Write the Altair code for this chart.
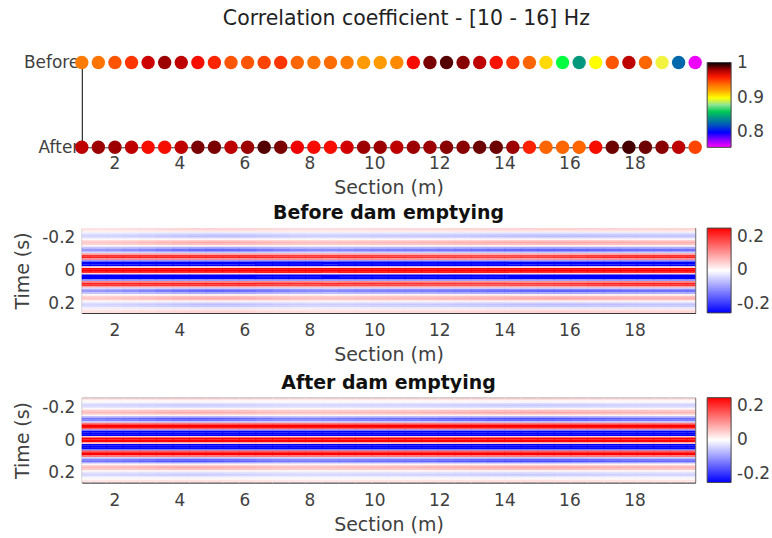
import altair as alt
import pandas as pd

# ---------------- data ----------------
sections = [1.00, 1.51, 2.02, 2.53, 3.04, 3.55, 4.06, 4.57, 5.08, 5.59,
            6.10, 6.61, 7.12, 7.63, 8.14, 8.65, 9.16, 9.67, 10.18, 10.69,
            11.20, 11.71, 12.22, 12.73, 13.24, 13.75, 14.26, 14.77, 15.28, 15.79,
            16.30, 16.81, 17.32, 17.83, 18.34, 18.85, 19.36, 19.87]

corr_before = [0.935, 0.937, 0.945, 0.953, 0.975, 0.982, 0.977, 0.965, 0.957, 0.945,
               0.945, 0.949, 0.953, 0.941, 0.937, 0.939, 0.935, 0.925, 0.925, 0.931,
               0.965, 0.987, 0.992, 0.985, 0.977, 0.964, 0.953, 0.941, 0.908, 0.870,
               0.845, 0.900, 0.945, 0.977, 0.941, 0.895, 0.828, 0.760]

corr_after = [0.977, 0.982, 0.982, 0.977, 0.965, 0.965, 0.977, 0.987, 0.987, 0.977,
              0.982, 0.992, 0.987, 0.970, 0.965, 0.965, 0.974, 0.982, 0.982, 0.977,
              0.982, 0.982, 0.985, 0.985, 0.989, 0.989, 0.982, 0.958, 0.941, 0.941,
              0.941, 0.965, 0.989, 0.994, 0.989, 0.985, 0.977, 0.949]

time_s = [-0.26, -0.25, -0.24, -0.23, -0.22, -0.21, -0.20, -0.19, -0.18, -0.17,
          -0.16, -0.15, -0.14, -0.13, -0.12, -0.11, -0.10, -0.09, -0.08, -0.07,
          -0.06, -0.05, -0.04, -0.03, -0.02, -0.01, 0.00, 0.01, 0.02, 0.03,
          0.04, 0.05, 0.06, 0.07, 0.08, 0.09, 0.10, 0.11, 0.12, 0.13,
          0.14, 0.15, 0.16, 0.17, 0.18, 0.19, 0.20, 0.21, 0.22, 0.23,
          0.24, 0.25, 0.26]

trace_before = [0.04, 0.04, 0.02, -0.02, -0.05, -0.06, -0.04, 0.01, 0.06, 0.08,
                0.06, 0.01, -0.08, -0.14, -0.14, -0.05, 0.09, 0.20, 0.22, 0.12,
                -0.10, -0.36, -0.45, -0.28, 0.04, 0.37, 0.50, 0.37, 0.04, -0.28,
                -0.45, -0.36, -0.10, 0.12, 0.22, 0.20, 0.09, -0.05, -0.14, -0.14,
                -0.08, 0.01, 0.06, 0.08, 0.06, 0.01, -0.04, -0.06, -0.05, -0.02,
                0.02, 0.04, 0.04]

trace_after = [0.03, 0.03, 0.01, -0.01, -0.04, -0.05, -0.03, 0.01, 0.06, 0.08,
               0.06, 0.01, -0.09, -0.16, -0.14, -0.05, 0.13, 0.30, 0.31, 0.16,
               -0.13, -0.42, -0.50, -0.30, 0.05, 0.41, 0.55, 0.41, 0.05, -0.30,
               -0.50, -0.42, -0.13, 0.16, 0.31, 0.30, 0.13, -0.05, -0.14, -0.16,
               -0.09, 0.01, 0.06, 0.08, 0.06, 0.01, -0.03, -0.05, -0.04, -0.01,
               0.01, 0.03, 0.03]

gain_inner_before = [1.00, 1.00, 1.00, 1.00, 1.00, 1.00, 1.00, 1.00, 1.00, 1.00,
                     1.00, 0.98, 0.96, 0.95, 0.95, 0.95, 0.95, 0.95, 0.94, 0.93,
                     0.92, 0.91, 0.90, 0.89, 0.88, 0.88, 0.88, 0.88, 0.89, 0.91,
                     0.93, 0.96, 0.98, 1.00, 1.00, 1.00, 1.00, 1.00]
gain_outer_before = [0.70, 0.72, 0.75, 0.80, 0.86, 0.93, 1.00, 1.05, 1.08, 1.06,
                     1.02, 0.96, 0.90, 0.85, 0.82, 0.82, 0.84, 0.87, 0.90, 0.91,
                     0.92, 0.93, 0.95, 0.98, 1.00, 1.03, 1.06, 1.08, 1.10, 1.10,
                     1.09, 1.07, 1.05, 1.03, 1.01, 1.00, 1.00, 1.00]
gain_inner_after = [1.00, 1.00, 1.00, 1.00, 1.00, 1.00, 1.00, 1.00, 1.00, 1.00,
                    1.00, 1.00, 1.00, 0.99, 0.99, 0.98, 0.98, 0.98, 0.98, 0.98,
                    0.98, 0.98, 0.98, 0.98, 0.98, 0.98, 0.99, 0.99, 1.00, 1.00,
                    1.00, 1.00, 1.00, 1.00, 1.00, 1.00, 1.00, 1.00]
gain_outer_after = [0.85, 0.86, 0.88, 0.92, 0.97, 1.02, 1.05, 1.05, 1.03, 0.99,
                    0.94, 0.88, 0.84, 0.82, 0.82, 0.84, 0.86, 0.88, 0.90, 0.91,
                    0.92, 0.95, 0.98, 1.01, 1.04, 1.07, 1.09, 1.10, 1.10, 1.08,
                    1.05, 1.02, 0.99, 0.96, 0.94, 0.93, 0.92, 0.92]

corr_stops = [0.757, 0.78, 0.80, 0.82, 0.84, 0.855, 0.87, 0.885, 0.90, 0.91,
              0.92, 0.93, 0.94, 0.95, 0.96, 0.97, 0.98, 0.99, 1.002]
corr_colors = ['#ff00ff', '#8000ff', '#0000ff', '#0050c0', '#008c8c', '#00b060',
               '#00ff40', '#d8d8c0', '#ffff00', '#ffd000', '#ffaa00', '#ff8c00',
               '#ff6a00', '#ff4000', '#ff1a00', '#ee0000', '#aa0000', '#660000',
               '#000000']

FONT = 'DejaVu Sans'
LAB = '#404040'
W, H = 615, 85
xticks = [2, 4, 6, 8, 10, 12, 14, 16, 18]
xdom = [1.0, 19.87]
TICK_FS = 17
TITLE_FS = 19


def make_x_axis(label_pad):
    return alt.Axis(values=xticks, title='Section (m)', grid=False, ticks=False,
                    domainColor='#333333', labelFontSize=TICK_FS, titleFontSize=TITLE_FS,
                    labelColor=LAB, titleColor=LAB, titleFontWeight='normal',
                    labelPadding=label_pad, titlePadding=7, labelFont=FONT, titleFont=FONT)


legend_common = dict(title=None, gradientLength=85, gradientThickness=24,
                     gradientStrokeColor='#444444', gradientStrokeWidth=1,
                     labelFontSize=TICK_FS, labelColor=LAB, labelFont=FONT,
                     labelBaseline='middle', offset=12, padding=0, labelOffset=6)

# ---------------- top panel ----------------
corr_df = pd.DataFrame({
    'section': sections + sections,
    'row': [1] * len(sections) + [0] * len(sections),
    'r': corr_before + corr_after,
})

top = alt.Chart(corr_df, view=alt.ViewBackground(stroke='transparent', strokeWidth=0)).mark_circle(
    size=180, opacity=1).encode(
    x=alt.X('section:Q', scale=alt.Scale(domain=xdom, nice=False, zero=False), axis=make_x_axis(8)),
    y=alt.Y('row:Q', scale=alt.Scale(domain=[0, 1], nice=False),
            axis=alt.Axis(values=[0, 1], labelExpr="datum.value == 1 ? 'Before' : 'After'",
                          grid=False, ticks=False, domainColor='#000000', title=None,
                          labelFontSize=TICK_FS, labelColor=LAB, labelFont=FONT, labelPadding=3)),
    color=alt.Color('r:Q',
                    scale=alt.Scale(domain=corr_stops, range=corr_colors, interpolate='rgb', clamp=True),
                    legend=alt.Legend(values=[1.0, 0.9, 0.8], format='.1~f', **legend_common)),
).properties(width=W, height=H)


# ---------------- heatmaps ----------------
def heat_df(trace, g_in, g_out):
    edges = [sections[0] - 0.255]
    for a, b in zip(sections[:-1], sections[1:]):
        edges.append((a + b) / 2)
    edges.append(sections[-1] + 0.255)
    rows = []
    for i, s in enumerate(sections):
        for t, v in zip(time_s, trace):
            g = g_in[i] if abs(t) <= 0.105 else g_out[i]
            rows.append({'x0': edges[i] - 0.015, 'x1': edges[i + 1] + 0.015,
                         'y0': t - 0.0055, 'y1': t + 0.0055, 'v': v * g})
    return pd.DataFrame(rows)


LBL = "datum.value == 0 ? '0' : (datum.value < 0 ? '-' : '') + format(abs(datum.value), '.1f')"


def heat_chart(df, title, toff):
    return alt.Chart(df, view=alt.ViewBackground(stroke='#555555', strokeWidth=1)).mark_rect(clip=True).encode(
        x=alt.X('x0:Q', scale=alt.Scale(domain=xdom, nice=False, zero=False), axis=make_x_axis(10)),
        x2='x1:Q',
        y=alt.Y('y0:Q', scale=alt.Scale(domain=[-0.26, 0.26], nice=False, zero=False, reverse=True),
                axis=alt.Axis(values=[-0.2, 0, 0.2], title='Time (s)', grid=False, ticks=False,
                              domain=False, labelExpr=LBL,
                              labelFontSize=TICK_FS, titleFontSize=TITLE_FS, labelColor=LAB, titleColor=LAB,
                              titleFontWeight='normal', labelFont=FONT, titleFont=FONT,
                              labelPadding=7, titlePadding=9)),
        y2='y1:Q',
        color=alt.Color('v:Q',
                        scale=alt.Scale(domain=[-0.25, 0, 0.25], range=['#0000ff', '#ffffff', '#ff0000'],
                                        interpolate='rgb', clamp=True),
                        legend=alt.Legend(values=[0.2, 0, -0.2], labelExpr=LBL, **legend_common)),
    ).properties(width=W, height=H,
                 title=alt.TitleParams(title, fontSize=19, fontWeight='bold', font=FONT,
                                       color='#111111', anchor='middle', frame='group', offset=toff))


before = heat_chart(heat_df(trace_before, gain_inner_before, gain_outer_before), 'Before dam emptying', 5)
after = heat_chart(heat_df(trace_after, gain_inner_after, gain_outer_after), 'After dam emptying', 5)

lower = alt.vconcat(before, after, spacing=7).resolve_scale(color='independent')

chart = alt.vconcat(top, lower, spacing=6).resolve_scale(color='independent').properties(
    title=alt.TitleParams('Correlation coefficient - [10 - 16] Hz', fontSize=20.5, fontWeight='normal',
                          font=FONT, color='#222222', anchor='middle', offset=24, dx=14),
    padding={'left': 13, 'top': 8, 'right': 0, 'bottom': 0},
).configure_view(stroke=None).configure(background='white')

chart.save('out.html', embed_options={'renderer': 'svg', 'actions': False})
